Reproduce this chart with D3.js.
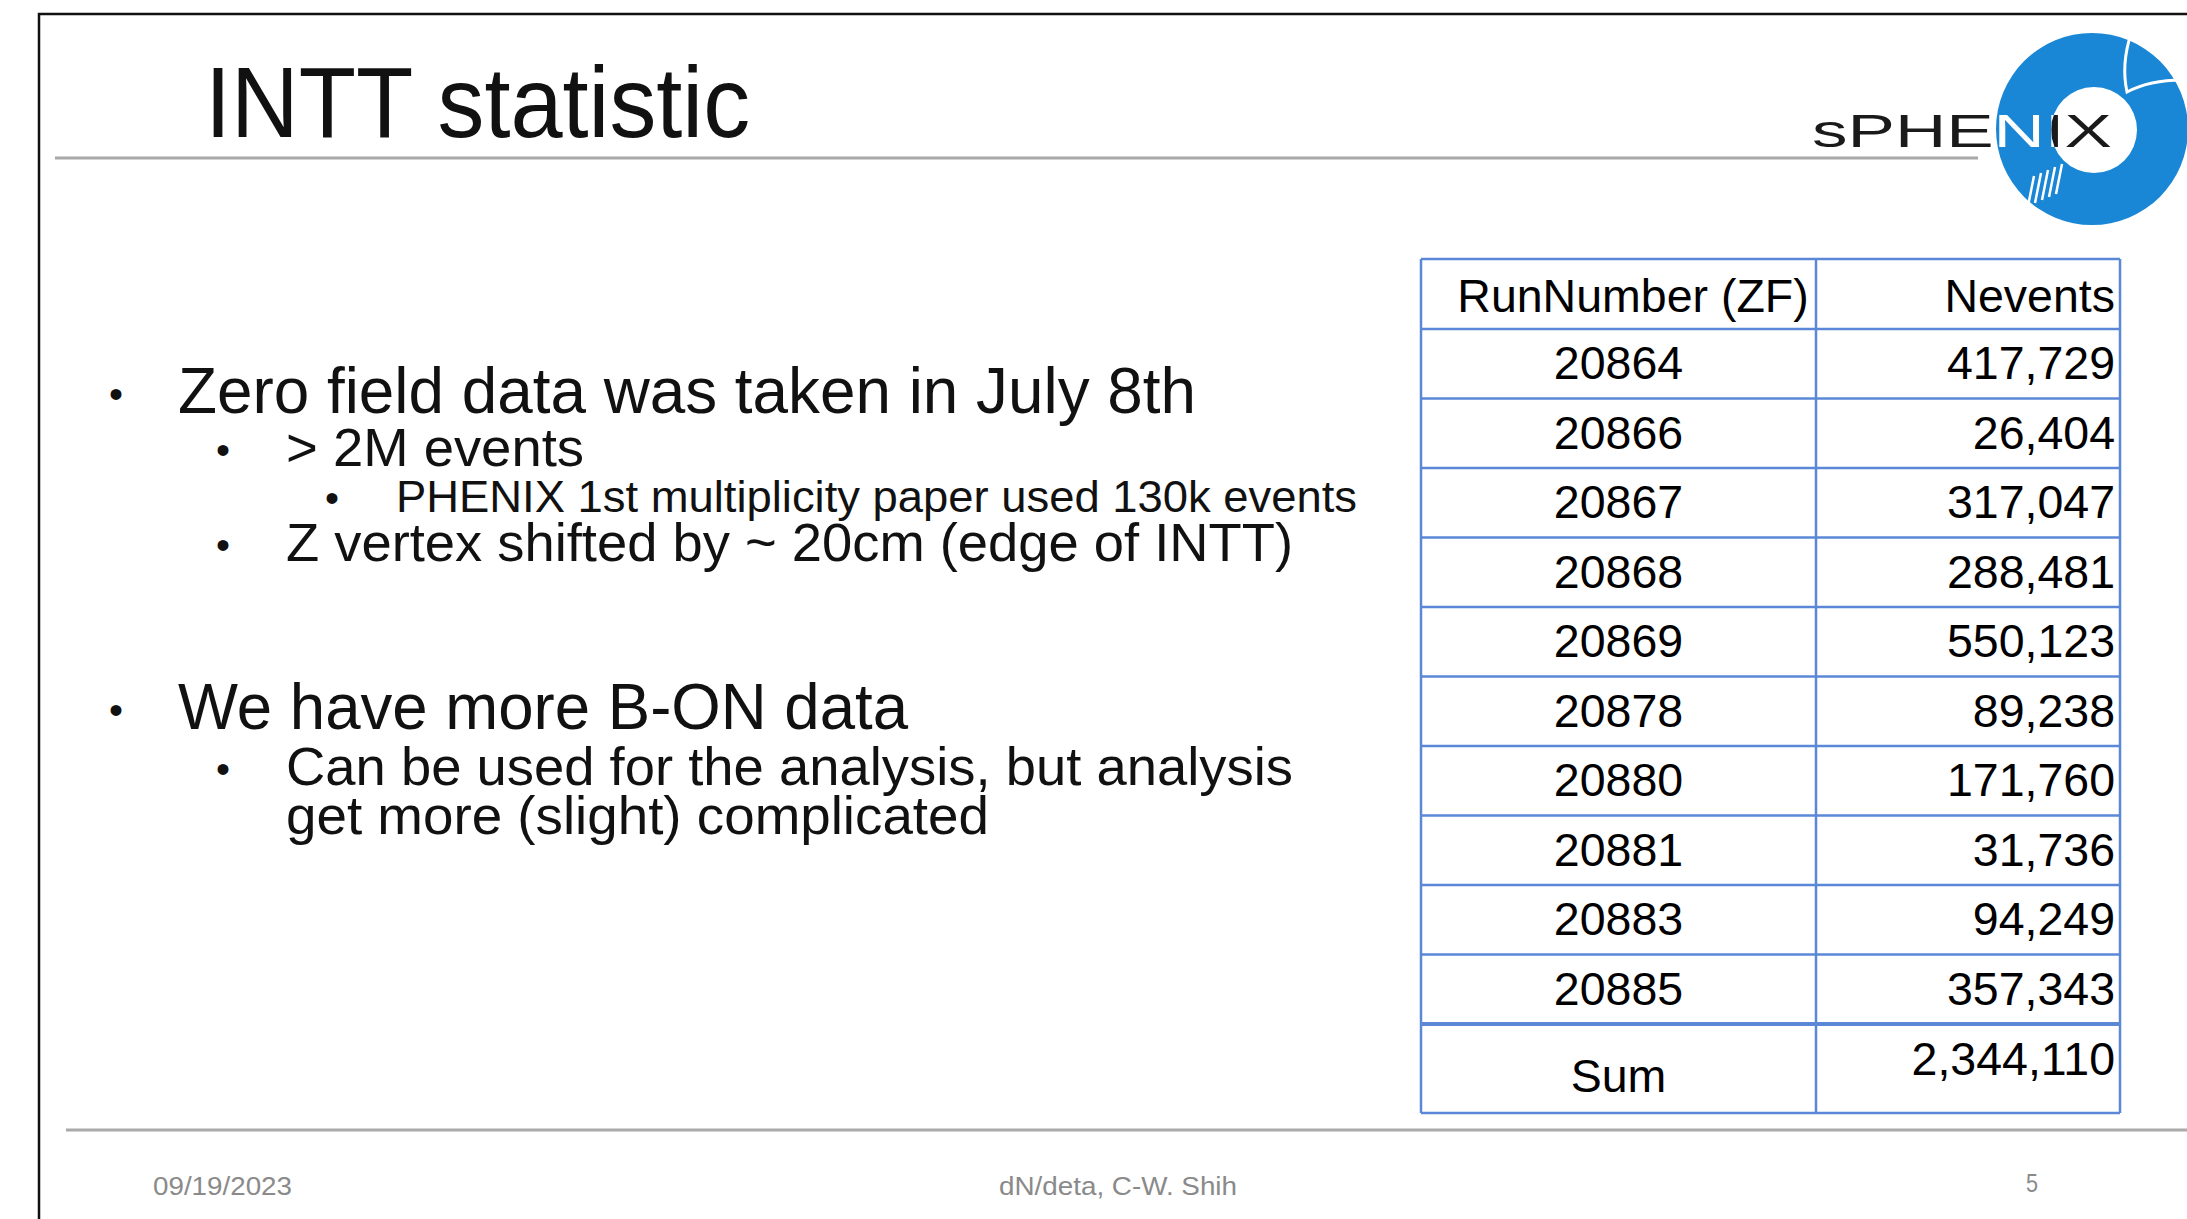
<!DOCTYPE html>
<html>
<head>
<meta charset="utf-8">
<script src="https://cdn.jsdelivr.net/npm/d3@7"></script>
<style>
  body { margin: 0; background: #fff; }
  svg { display: block; }
  text { font-family: "Liberation Sans", Arial, Helvetica, sans-serif; }
</style>
</head>
<body>
<div class="slide"></div>
<script>
// table data
const runNumbers = ["20864", "20866", "20867", "20868", "20869", "20878", "20880", "20881", "20883", "20885"];
const nevents = [417729, 26404, 317047, 288481, 550123, 89238, 171760, 31736, 94249, 357343];
const columnLabels = ["RunNumber (ZF)", "Nevents"];
const sumLabel = "Sum";

// slide text
const title = "INTT statistic";
const bulletTexts = [
    "Zero field data was taken in July 8th",
    "> 2M events",
    "PHENIX 1st multiplicity paper used 130k events",
    "Z vertex shifted by ~ 20cm (edge of INTT)",
    "We have more B-ON data",
    "Can be used for the analysis, but analysis",
    "get more (slight) complicated"
];
const bulletLevels = [1, 2, 3, 2, 1, 2, 2];
const bulletShown = [true, true, true, true, true, true, false];
const footerTexts = ["09/19/2023", "dN/deta, C-W. Shih", "5"];

// layout
const W = 2187, H = 1219;
const levelStyle = {
    1: { dotX: 116, textX: 178, size: 64 },
    2: { dotX: 223, textX: 286, size: 54.5 },
    3: { dotX: 332, textX: 396, size: 45 }
};
const lineBaselines = [413, 466, 512, 561, 729, 785, 834];
const lineWidths = [1018, 298, 961, 1007, 730, 1007, 703];
const dotFont = 40;

const tbl = { x0: 1421, x1: 1816, x2: 2120, top: 259, head: 329, body: 1024, bottom: 1113 };
const tblFont = 46.5;
const capH = tblFont * 0.716;
const blue = "#5a88d6";

const svg = d3.select('.slide')
    .append('svg')
    .attr('width', W)
    .attr('height', H);

svg.append('rect').attr('width', W).attr('height', H).attr('fill', '#fff');

// page frame
svg.append('path')
    .attr('d', `M39,${H} L39,14 L${W},14`)
    .attr('fill', 'none')
    .attr('stroke', '#111')
    .attr('stroke-width', 2.5);

// title + rule
svg.append('text')
    .attr('x', 205)
    .attr('y', 137)
    .attr('font-size', 100)
    .attr('textLength', 545)
    .attr('lengthAdjust', 'spacingAndGlyphs')
    .attr('fill', '#111')
    .text(title);

svg.append('line')
    .attr('x1', 55).attr('x2', 1978)
    .attr('y1', 158).attr('y2', 158)
    .attr('stroke', '#a8a8a8')
    .attr('stroke-width', 3);

// logo
const logo = svg.append('g');
const ringPath = d3.path();
ringPath.arc(2092, 129, 96, 0, 2 * Math.PI);
ringPath.moveTo(2094 + 43, 130);
ringPath.arc(2094, 130, 43, 0, 2 * Math.PI);

svg.append('defs').append('clipPath')
    .attr('id', 'ringClip')
    .append('path')
    .attr('d', ringPath.toString())
    .attr('clip-rule', 'evenodd');

const logoText = (fill) => logo.append('text')
    .attr('x', 1812)
    .attr('y', 147)
    .attr('font-size', 47)
    .attr('textLength', 300)
    .attr('lengthAdjust', 'spacingAndGlyphs')
    .attr('fill', fill)
    .text('sPHENIX');

logoText('#1a1a1a');
logo.append('path')
    .attr('d', ringPath.toString())
    .attr('fill', '#1a87d6')
    .attr('fill-rule', 'evenodd');
logoText('#fff').attr('clip-path', 'url(#ringClip)');

logo.append('path')
    .attr('d', 'M2131,34 Q2121,64 2127,92 Q2150,80 2182,80')
    .attr('fill', 'none')
    .attr('stroke', '#fff')
    .attr('stroke-width', 3);

logo.append('g')
    .selectAll('line')
    .data([0, 1, 2, 3, 4])
    .join('line')
    .attr('x1', d => 2028 + d * 7)
    .attr('x2', d => 2034 + d * 7)
    .attr('y1', d => 206 - d * 3)
    .attr('y2', d => 176 - d * 3)
    .attr('stroke', '#fff')
    .attr('stroke-width', 2.5);

// bullets
const lines = bulletTexts.map((t, i) => ({ text: t, level: bulletLevels[i], shown: bulletShown[i], y: lineBaselines[i], w: lineWidths[i] }));

svg.append('g')
    .selectAll('text')
    .data(lines.filter(d => d.shown))
    .join('text')
    .attr('x', d => levelStyle[d.level].dotX)
    .attr('y', d => d.y - levelStyle[d.level].size * 0.26 + dotFont * 0.3)
    .attr('text-anchor', 'middle')
    .attr('font-size', dotFont)
    .attr('fill', '#111')
    .text('•');

svg.append('g')
    .selectAll('text')
    .data(lines)
    .join('text')
    .attr('x', d => levelStyle[d.level].textX)
    .attr('y', d => d.y)
    .attr('font-size', d => levelStyle[d.level].size)
    .attr('textLength', d => d.w)
    .attr('lengthAdjust', 'spacingAndGlyphs')
    .attr('fill', '#111')
    .text(d => d.text);

// table
const y = d3.scaleBand().domain(runNumbers).range([tbl.head, tbl.body]);
const fmt = d3.format(',');
const table = svg.append('g');

const hLines = [tbl.top, tbl.head].concat(runNumbers.slice(1).map(r => y(r)), [tbl.body, tbl.bottom]);
table.selectAll('line.h')
    .data(hLines)
    .join('line')
    .attr('class', 'h')
    .attr('x1', tbl.x0).attr('x2', tbl.x2)
    .attr('y1', d => d).attr('y2', d => d)
    .attr('stroke', blue)
    .attr('stroke-width', d => d === tbl.body ? 4 : 2.5);

table.selectAll('line.v')
    .data([tbl.x0, tbl.x1, tbl.x2])
    .join('line')
    .attr('class', 'v')
    .attr('x1', d => d).attr('x2', d => d)
    .attr('y1', tbl.top).attr('y2', tbl.bottom)
    .attr('stroke', blue)
    .attr('stroke-width', 2.5);

const headBase = (tbl.top + tbl.head) / 2 + capH / 2 + 1;
table.append('text')
    .attr('x', 1633).attr('y', headBase)
    .attr('text-anchor', 'middle')
    .attr('font-size', tblFont)
    .text(columnLabels[0]);
table.append('text')
    .attr('x', tbl.x2 - 5).attr('y', headBase)
    .attr('text-anchor', 'end')
    .attr('font-size', tblFont)
    .text(columnLabels[1]);

const rows = runNumbers.map((r, i) => ({ run: r, n: nevents[i] }));
const rowG = table.selectAll('g.row')
    .data(rows)
    .join('g')
    .attr('class', 'row')
    .attr('transform', d => `translate(0,${y(d.run) + y.bandwidth() / 2 + capH / 2 - 1})`);

rowG.append('text')
    .attr('x', (tbl.x0 + tbl.x1) / 2)
    .attr('text-anchor', 'middle')
    .attr('font-size', tblFont)
    .text(d => d.run);

rowG.append('text')
    .attr('x', tbl.x2 - 5)
    .attr('text-anchor', 'end')
    .attr('font-size', tblFont)
    .text(d => fmt(d.n));

table.append('text')
    .attr('x', (tbl.x0 + tbl.x1) / 2).attr('y', 1092)
    .attr('text-anchor', 'middle')
    .attr('font-size', tblFont)
    .text(sumLabel);
table.append('text')
    .attr('x', tbl.x2 - 5).attr('y', 1075)
    .attr('text-anchor', 'end')
    .attr('font-size', tblFont)
    .text(fmt(d3.sum(nevents)));

// footer
svg.append('line')
    .attr('x1', 66).attr('x2', W)
    .attr('y1', 1130).attr('y2', 1130)
    .attr('stroke', '#aaa')
    .attr('stroke-width', 3);

const footerPos = [{ x: 153, y: 1195, w: 139 }, { x: 999, y: 1195, w: 238 }, { x: 2026, y: 1192, w: 12 }];
svg.append('g')
    .selectAll('text')
    .data(footerTexts)
    .join('text')
    .attr('x', (d, i) => footerPos[i].x)
    .attr('y', (d, i) => footerPos[i].y)
    .attr('font-size', 25)
    .attr('textLength', (d, i) => footerPos[i].w)
    .attr('lengthAdjust', 'spacingAndGlyphs')
    .attr('fill', '#8a8a8a')
    .text(d => d);
</script>
</body>
</html>
